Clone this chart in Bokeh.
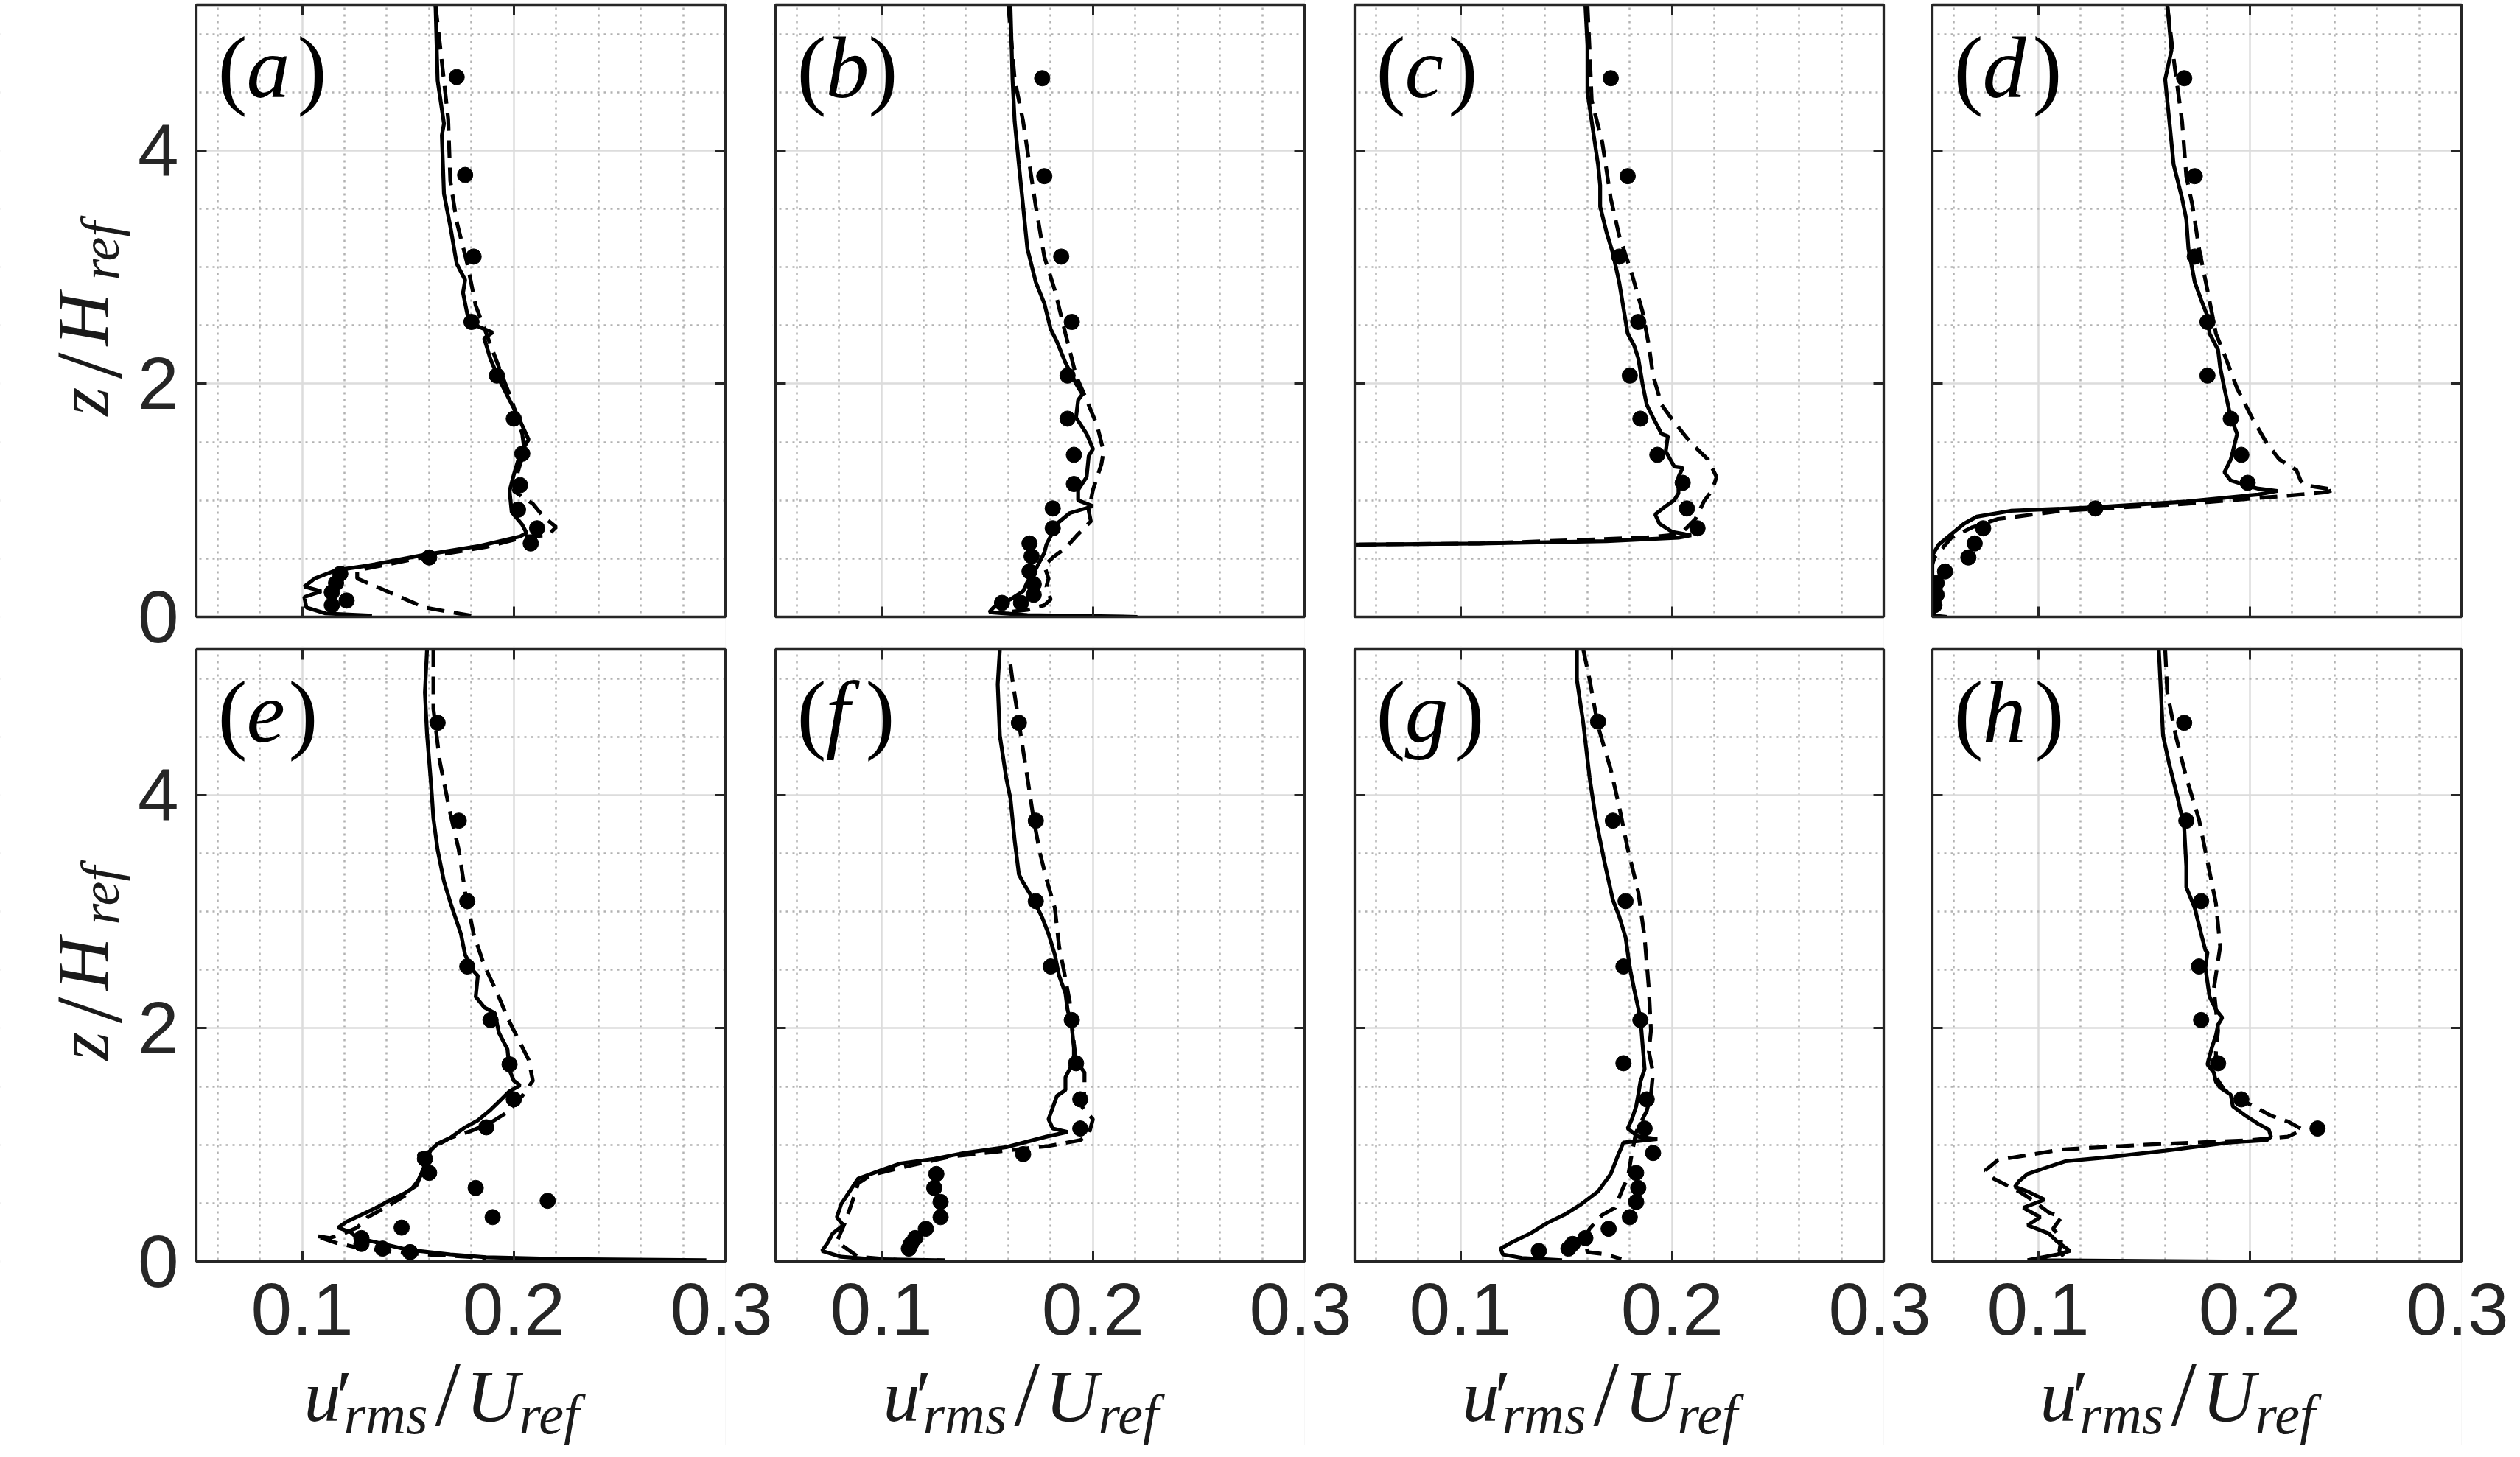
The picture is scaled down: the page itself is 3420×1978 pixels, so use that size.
import math
from bokeh.plotting import figure
from bokeh.models import Range1d, FixedTicker, LinearAxis, Label, BoxAnnotation
from bokeh.layouts import gridplot
from bokeh.embed import file_html
from bokeh.resources import INLINE

# ---------------- data ----------------
# panel (a)
a_sol_u = [0.163,0.164,0.167,0.166,0.167,0.170,0.173,0.177,0.176,0.178,0.182,0.190,0.186,0.189,0.193,0.198,0.202,0.207,0.203,0.200,0.198,0.199,0.204,0.206,0.203,0.184,0.157,0.131,0.116,0.106,0.101,0.109,0.101,0.102,0.111,0.133]
a_sol_z = [5.25,4.60,4.23,4.13,3.63,3.35,3.03,2.89,2.78,2.60,2.50,2.44,2.39,2.21,2.04,1.86,1.72,1.52,1.40,1.22,1.08,0.90,0.79,0.72,0.69,0.61,0.53,0.44,0.40,0.33,0.26,0.22,0.17,0.08,0.03,0.01]
a_das_u = [0.163,0.169,0.170,0.173,0.178,0.182,0.187,0.193,0.199,0.204,0.205,0.202,0.200,0.209,0.214,0.220,0.216,0.206,0.187,0.157,0.126,0.126,0.140,0.158,0.180]
a_das_z = [5.25,4.27,3.74,3.39,3.03,2.67,2.43,2.14,1.86,1.57,1.43,1.25,1.08,0.97,0.86,0.77,0.70,0.69,0.60,0.51,0.40,0.33,0.22,0.08,0.01]
a_exp_u = [0.173,0.177,0.181,0.180,0.192,0.200,0.204,0.203,0.202,0.211,0.208,0.160,0.118,0.116,0.114,0.121,0.114]
a_exp_z = [4.63,3.79,3.09,2.53,2.07,1.70,1.40,1.13,0.92,0.76,0.63,0.51,0.37,0.29,0.21,0.14,0.10]

# panel (b)
b_sol_u = [0.161,0.162,0.163,0.165,0.167,0.169,0.173,0.177,0.180,0.183,0.187,0.192,0.195,0.193,0.192,0.197,0.200,0.198,0.197,0.193,0.193,0.200,0.189,0.183,0.178,0.177,0.173,0.169,0.167,0.161,0.153,0.151,0.169,0.221]
b_sol_z = [5.25,4.61,4.25,3.88,3.52,3.16,2.87,2.69,2.47,2.36,2.18,2.00,1.91,1.86,1.71,1.57,1.44,1.38,1.20,1.09,1.00,0.95,0.89,0.80,0.62,0.55,0.41,0.30,0.22,0.15,0.08,0.04,0.015,0.0]
b_das_u = [0.160,0.163,0.167,0.170,0.173,0.177,0.182,0.187,0.192,0.197,0.202,0.205,0.204,0.200,0.198,0.199,0.193,0.187,0.181,0.177,0.179,0.178,0.180,0.177,0.169,0.159]
b_das_z = [5.25,4.61,4.25,3.88,3.52,3.09,2.80,2.43,2.07,1.86,1.64,1.42,1.31,1.09,0.91,0.82,0.71,0.59,0.51,0.44,0.33,0.26,0.15,0.10,0.06,0.04]
b_exp_u = [0.176,0.177,0.185,0.190,0.188,0.188,0.191,0.191,0.181,0.181,0.170,0.171,0.170,0.172,0.172,0.166,0.157]
b_exp_z = [4.62,3.78,3.09,2.53,2.07,1.70,1.39,1.14,0.93,0.76,0.63,0.52,0.39,0.28,0.19,0.12,0.12]

# panel (c)
c_sol_u = [0.159,0.160,0.160,0.162,0.165,0.166,0.166,0.169,0.172,0.175,0.177,0.179,0.182,0.184,0.186,0.188,0.191,0.195,0.198,0.197,0.201,0.205,0.203,0.203,0.201,0.197,0.192,0.194,0.200,0.209,0.203,0.169,0.109,0.050]
c_sol_z = [5.25,4.90,4.50,4.25,3.88,3.70,3.52,3.30,3.12,2.87,2.65,2.43,2.33,2.22,2.00,1.82,1.71,1.57,1.55,1.42,1.29,1.28,1.20,1.06,1.00,0.95,0.88,0.80,0.73,0.70,0.68,0.65,0.63,0.62]
c_das_u = [0.160,0.161,0.162,0.167,0.171,0.175,0.181,0.186,0.189,0.191,0.195,0.201,0.209,0.217,0.221,0.219,0.215,0.211,0.205,0.199,0.187,0.109,0.050]
c_das_z = [5.25,4.86,4.43,4.07,3.59,3.27,2.94,2.62,2.33,2.07,1.82,1.67,1.49,1.35,1.20,1.09,0.99,0.84,0.73,0.70,0.68,0.63,0.62]
c_exp_u = [0.171,0.179,0.175,0.184,0.180,0.185,0.193,0.205,0.207,0.212]
c_exp_z = [4.62,3.78,3.09,2.53,2.07,1.70,1.39,1.15,0.93,0.76]

# panel (d)
d_sol_u = [0.161,0.163,0.160,0.162,0.164,0.168,0.170,0.171,0.174,0.177,0.180,0.181,0.185,0.186,0.188,0.191,0.194,0.192,0.191,0.188,0.191,0.198,0.204,0.213,0.204,0.170,0.127,0.087,0.071,0.065,0.059,0.053,0.050,0.050,0.050,0.051,0.057]
d_sol_z = [5.25,4.86,4.61,4.25,3.88,3.59,3.41,3.16,2.87,2.72,2.58,2.43,2.29,2.14,1.96,1.71,1.57,1.42,1.35,1.24,1.17,1.13,1.10,1.08,1.05,0.99,0.94,0.91,0.86,0.80,0.71,0.62,0.53,0.30,0.10,0.01,0.0]
d_das_u = [0.161,0.164,0.168,0.170,0.173,0.176,0.180,0.184,0.188,0.194,0.201,0.208,0.214,0.222,0.224,0.226,0.240,0.236,0.218,0.170,0.111,0.081,0.069,0.059,0.051,0.050]
d_das_z = [5.25,4.79,4.25,3.78,3.52,3.16,2.80,2.43,2.25,1.96,1.71,1.49,1.35,1.26,1.17,1.13,1.09,1.07,1.04,0.97,0.91,0.84,0.77,0.68,0.51,0.45]
d_exp_u = [0.169,0.174,0.174,0.180,0.180,0.191,0.196,0.199,0.127,0.074,0.070,0.067,0.056,0.052,0.052,0.051]
d_exp_z = [4.62,3.78,3.09,2.53,2.07,1.70,1.39,1.15,0.93,0.76,0.63,0.51,0.39,0.29,0.19,0.10]

# panel (e)
e_sol_u = [0.159,0.158,0.159,0.161,0.162,0.164,0.167,0.170,0.175,0.177,0.181,0.183,0.182,0.186,0.191,0.193,0.197,0.198,0.200,0.203,0.198,0.193,0.189,0.183,0.177,0.170,0.164,0.160,0.155,0.158,0.156,0.154,0.148,0.143,0.136,0.128,0.121,0.117,0.123,0.126,0.136,0.150,0.170,0.187,0.224,0.291]
e_sol_z = [5.25,4.88,4.52,4.07,3.80,3.53,3.26,3.08,2.81,2.63,2.49,2.45,2.27,2.18,2.13,1.96,1.82,1.64,1.55,1.51,1.46,1.37,1.30,1.21,1.15,1.06,1.01,0.94,0.92,0.83,0.74,0.65,0.58,0.54,0.47,0.40,0.34,0.29,0.25,0.20,0.16,0.10,0.06,0.036,0.02,0.01]
e_das_u = [0.162,0.162,0.165,0.170,0.174,0.177,0.181,0.186,0.192,0.197,0.202,0.207,0.209,0.204,0.197,0.189,0.180,0.170,0.161,0.158,0.155,0.150,0.140,0.131,0.126,0.121,0.113,0.106,0.116,0.128,0.150,0.187]
e_das_z = [5.25,4.74,4.29,3.84,3.53,3.17,2.81,2.54,2.31,2.09,1.91,1.73,1.55,1.42,1.28,1.19,1.12,1.06,0.97,0.83,0.70,0.58,0.47,0.38,0.29,0.25,0.20,0.22,0.16,0.11,0.07,0.03]
e_exp_u = [0.164,0.174,0.178,0.178,0.189,0.198,0.200,0.187,0.158,0.160,0.182,0.216,0.190,0.147,0.128,0.128,0.138,0.151]
e_exp_z = [4.62,3.78,3.09,2.53,2.07,1.69,1.39,1.15,0.88,0.76,0.63,0.52,0.38,0.29,0.20,0.15,0.11,0.08]

# panel (f)
f_sol_u = [0.156,0.155,0.156,0.159,0.161,0.163,0.165,0.167,0.172,0.176,0.179,0.182,0.184,0.187,0.188,0.190,0.191,0.191,0.189,0.187,0.187,0.183,0.181,0.179,0.181,0.188,0.178,0.159,0.139,0.125,0.109,0.101,0.089,0.085,0.081,0.079,0.082,0.077,0.075,0.072,0.081,0.095,0.130]
f_sol_z = [5.25,4.95,4.51,4.15,3.97,3.61,3.32,3.25,3.10,2.95,2.81,2.63,2.45,2.30,2.16,2.01,1.83,1.73,1.65,1.58,1.47,1.42,1.32,1.22,1.14,1.11,1.07,0.98,0.93,0.88,0.84,0.79,0.71,0.60,0.49,0.38,0.31,0.24,0.17,0.09,0.04,0.02,0.01]
f_das_u = [0.161,0.162,0.165,0.169,0.172,0.175,0.178,0.182,0.184,0.186,0.189,0.190,0.191,0.192,0.196,0.196,0.195,0.200,0.198,0.194,0.179,0.159,0.133,0.113,0.095,0.089,0.087,0.083,0.079,0.089,0.109]
f_das_z = [5.12,4.98,4.62,4.15,3.79,3.50,3.28,3.03,2.70,2.52,2.23,2.05,1.87,1.72,1.62,1.47,1.32,1.22,1.09,1.04,0.99,0.95,0.90,0.82,0.74,0.67,0.55,0.34,0.17,0.04,0.01]
f_exp_u = [0.165,0.173,0.173,0.180,0.190,0.192,0.194,0.194,0.167,0.126,0.125,0.128,0.128,0.121,0.116,0.114,0.113]
f_exp_z = [4.62,3.78,3.09,2.53,2.07,1.70,1.39,1.14,0.92,0.75,0.63,0.51,0.38,0.28,0.20,0.15,0.11]

# panel (g)
g_sol_u = [0.155,0.155,0.158,0.161,0.164,0.168,0.172,0.175,0.178,0.180,0.182,0.185,0.186,0.187,0.185,0.184,0.183,0.181,0.179,0.184,0.193,0.177,0.174,0.171,0.165,0.157,0.149,0.141,0.133,0.125,0.119,0.120,0.129,0.148]
g_sol_z = [5.25,4.99,4.62,4.15,3.79,3.43,3.10,2.96,2.78,2.52,2.34,2.09,1.87,1.65,1.54,1.43,1.33,1.22,1.14,1.07,1.05,1.02,0.89,0.75,0.60,0.49,0.40,0.33,0.24,0.17,0.11,0.06,0.03,0.01]
g_das_u = [0.158,0.161,0.165,0.171,0.175,0.179,0.184,0.187,0.189,0.190,0.189,0.191,0.190,0.188,0.186,0.183,0.181,0.179,0.177,0.173,0.167,0.161,0.159,0.160,0.169,0.176]
g_das_z = [5.25,4.99,4.59,4.22,3.90,3.54,3.17,2.78,2.34,1.98,1.80,1.62,1.43,1.29,1.22,1.11,0.93,0.71,0.64,0.46,0.40,0.28,0.20,0.08,0.06,0.02]
g_exp_u = [0.165,0.172,0.178,0.177,0.185,0.177,0.188,0.187,0.191,0.183,0.184,0.183,0.180,0.170,0.159,0.153,0.151,0.137]
g_exp_z = [4.63,3.78,3.09,2.53,2.07,1.70,1.39,1.14,0.93,0.76,0.63,0.51,0.38,0.28,0.20,0.15,0.11,0.09]

# panel (h)
h_sol_u = [0.157,0.158,0.159,0.162,0.166,0.169,0.170,0.170,0.174,0.177,0.179,0.180,0.179,0.181,0.184,0.187,0.185,0.184,0.182,0.181,0.180,0.183,0.184,0.186,0.191,0.192,0.198,0.204,0.209,0.210,0.208,0.190,0.160,0.131,0.113,0.103,0.095,0.091,0.089,0.095,0.103,0.093,0.101,0.095,0.105,0.109,0.115,0.109,0.095,0.187]
h_sol_z = [5.25,4.88,4.51,4.26,3.97,3.72,3.39,3.21,3.03,2.81,2.67,2.65,2.52,2.27,2.16,2.09,2.03,1.94,1.83,1.76,1.69,1.62,1.54,1.49,1.43,1.33,1.25,1.18,1.13,1.07,1.04,1.02,0.95,0.89,0.86,0.80,0.75,0.69,0.64,0.60,0.53,0.46,0.38,0.31,0.24,0.17,0.09,0.06,0.01,0.0]
h_das_u = [0.160,0.161,0.165,0.170,0.176,0.180,0.184,0.186,0.183,0.185,0.184,0.184,0.188,0.194,0.202,0.210,0.218,0.225,0.218,0.200,0.150,0.111,0.081,0.075,0.079,0.091,0.097,0.105,0.111,0.107,0.111,0.110,0.113]
h_das_z = [5.25,4.88,4.51,4.15,3.79,3.43,3.07,2.70,2.34,1.98,1.80,1.58,1.47,1.40,1.33,1.25,1.20,1.13,1.07,1.04,1.00,0.96,0.87,0.78,0.71,0.60,0.53,0.42,0.38,0.28,0.20,0.09,0.02]
h_exp_u = [0.169,0.170,0.177,0.176,0.177,0.185,0.196,0.232]
h_exp_z = [4.62,3.78,3.09,2.53,2.07,1.70,1.39,1.14]

panel_letters = ["a", "b", "c", "d", "e", "f", "g", "h"]
x_major = [0.1, 0.2, 0.3]
x_minor = [0.06, 0.08, 0.12, 0.14, 0.16, 0.18, 0.22, 0.24, 0.26, 0.28]
y_major = [0, 2, 4]
y_minor = [0.5, 1.0, 1.5, 2.5, 3.0, 3.5, 4.5, 5.0]

series = {
    "a": (a_sol_u, a_sol_z, a_das_u, a_das_z, a_exp_u, a_exp_z),
    "b": (b_sol_u, b_sol_z, b_das_u, b_das_z, b_exp_u, b_exp_z),
    "c": (c_sol_u, c_sol_z, c_das_u, c_das_z, c_exp_u, c_exp_z),
    "d": (d_sol_u, d_sol_z, d_das_u, d_das_z, d_exp_u, d_exp_z),
    "e": (e_sol_u, e_sol_z, e_das_u, e_das_z, e_exp_u, e_exp_z),
    "f": (f_sol_u, f_sol_z, f_das_u, f_das_z, f_exp_u, f_exp_z),
    "g": (g_sol_u, g_sol_z, g_das_u, g_das_z, g_exp_u, g_exp_z),
    "h": (h_sol_u, h_sol_z, h_das_u, h_das_z, h_exp_u, h_exp_z),
}

# ---------------- layout / style ----------------
X0, X1 = 0.05, 0.30
Y0, Y1 = 0.0, 5.25
BOX_W, BOX_H = 718, 831            # pixel size of each axes box
PX_X = BOX_W / (X1 - X0)
PX_Y = BOX_H / (Y1 - Y0)
# each figure is one cell of the page; its plotting area covers the whole cell,
# the axes box sits inside it with these margins (px)
EXT_L = [266, 4, 4, 2]
EXT_R = [64, 64, 64, 64]
EXT_T = [6, 4]
EXT_B = [40, 250]
AX_COL = "#262626"
TICK_FONT = "Liberation Sans"
MATH_FONT = "Liberation Serif"
LW = 5.2
MID = 0.32       # distance (in em) from the text middle down to its baseline
# x position (px from box left) of the closing parenthesis of each panel tag
CLOSE_PAREN = {"a": 137, "b": 126, "c": 127, "d": 136, "e": 125, "f": 122, "g": 136, "h": 139}


def add_text(p, xpx, ypx, text, size, italic=False, rotated=False, color="#1a1a1a"):
    """xpx, ypx: start of the text baseline, in px from the box's lower-left corner."""
    if rotated:
        xpx = xpx - MID * size
        ang = math.pi / 2
    else:
        ypx = ypx + MID * size
        ang = 0.0
    p.add_layout(Label(x=X0 + xpx / PX_X, y=Y0 + ypx / PX_Y, text=text,
                       text_font=MATH_FONT, text_font_size=f"{size}px",
                       text_font_style="italic" if italic else "normal",
                       text_color=color, text_align="left",
                       text_baseline="middle", angle=ang))


def style_axis(ax, ticks, minor, show_labels, loc):
    ax.ticker = FixedTicker(ticks=ticks, minor_ticks=minor)
    ax.fixed_location = loc
    ax.major_tick_in = 14
    ax.major_tick_out = 0
    ax.minor_tick_in = 0
    ax.minor_tick_out = 0
    ax.major_tick_line_color = AX_COL
    ax.major_tick_line_width = 3
    ax.axis_line_color = None
    ax.axis_label = None
    ax.major_label_text_font = TICK_FONT
    if show_labels:
        ax.major_label_text_font_size = "100px"
        ax.major_label_text_color = AX_COL
    else:
        ax.major_label_text_font_size = "1px"
        ax.major_label_text_color = None
        ax.major_label_standoff = 0


rows = []
for r in range(2):
    row_figs = []
    for c in range(4):
        key = panel_letters[r * 4 + c]
        cw = EXT_L[c] + BOX_W + EXT_R[c]
        ch = EXT_T[r] + BOX_H + EXT_B[r]
        xs, xe = X0 - EXT_L[c] / PX_X, X1 + EXT_R[c] / PX_X
        ys, ye = Y0 - EXT_B[r] / PX_Y, Y1 + EXT_T[r] / PX_Y
        p = figure(frame_width=cw, frame_height=ch,
                   x_range=Range1d(xs, xe), y_range=Range1d(ys, ye),
                   output_backend="svg", toolbar_location=None, min_border=0)
        p.background_fill_color = "white"
        p.border_fill_color = "white"
        p.outline_line_color = None

        style_axis(p.xaxis[0], x_major, x_minor, r == 1, Y0)
        style_axis(p.yaxis[0], y_major, y_minor, c == 0, X0)
        if r == 1:
            p.xaxis[0].major_label_standoff = 30
        if c == 0:
            p.yaxis[0].major_label_standoff = 24
        xt = LinearAxis()
        style_axis(xt, x_major, x_minor, False, Y1)
        p.add_layout(xt, "above")
        yr = LinearAxis()
        style_axis(yr, y_major, y_minor, False, X1)
        p.add_layout(yr, "right")

        p.xgrid.ticker = FixedTicker(ticks=x_major, minor_ticks=x_minor)
        p.ygrid.ticker = FixedTicker(ticks=y_major, minor_ticks=y_minor)
        for g in (p.xgrid, p.ygrid):
            g.grid_line_color = "#dcdcdc"
            g.grid_line_width = 2.5
            g.minor_grid_line_color = "#b2b2b2"
            g.minor_grid_line_width = 2.5
            g.minor_grid_line_dash = "3 6"

        su, sz, du, dz, eu, ez = series[key]
        p.line(su, sz, line_color="black", line_width=LW)
        p.line(du, dz, line_color="black", line_width=LW, line_dash="24 13")
        p.scatter(eu, ez, marker="circle", size=21, fill_color="black", line_color="black")

        # white masks outside the axes box (hide grid lines there)
        for (l, rr, b, t) in ((xs, X0, ys, ye), (X1, xe, ys, ye), (X0, X1, ys, Y0), (X0, X1, Y1, ye)):
            p.add_layout(BoxAnnotation(left=l, right=rr, bottom=b, top=t,
                                       fill_color="white", fill_alpha=1.0,
                                       line_color=None, level="glyph"))
        # axes box
        p.add_layout(BoxAnnotation(left=X0, right=X1, bottom=Y0, top=Y1,
                                   fill_color=None, fill_alpha=0.0,
                                   line_color=AX_COL, line_alpha=1.0, line_width=3.3))

        # panel tag  (x)
        ytag = BOX_H - 124
        add_text(p, 29, ytag, "(", 120, color="black")
        add_text(p, 68, ytag, key, 118, italic=True, color="black")
        add_text(p, CLOSE_PAREN[key], ytag, ")", 120, color="black")

        # y label  z/H_ref  (reads bottom to top, baseline at 122 px left of the box)
        if c == 0:
            add_text(p, -122, 273, "z", 100, italic=True, rotated=True)
            add_text(p, -104, 323, "/", 130, rotated=True)
            add_text(p, -122, 368, "H", 100, italic=True, rotated=True)
            add_text(p, -107, 457, "ref", 74, italic=True, rotated=True)

        # x label  u'_rms/U_ref
        if r == 1:
            yb = -215
            ysub = -232
            add_text(p, 146, yb, "u", 100, italic=True)
            add_text(p, 190, yb, "\u2032", 100)
            add_text(p, 200, ysub, "rms", 76, italic=True)
            add_text(p, 324, yb - 6, "/", 124)
            add_text(p, 366, yb, "U", 100, italic=True)
            add_text(p, 438, ysub, "ref", 76, italic=True)

        row_figs.append(p)
    rows.append(row_figs)

layout = gridplot(rows, toolbar_location=None)
open("out.html", "w").write(file_html(layout, INLINE))
